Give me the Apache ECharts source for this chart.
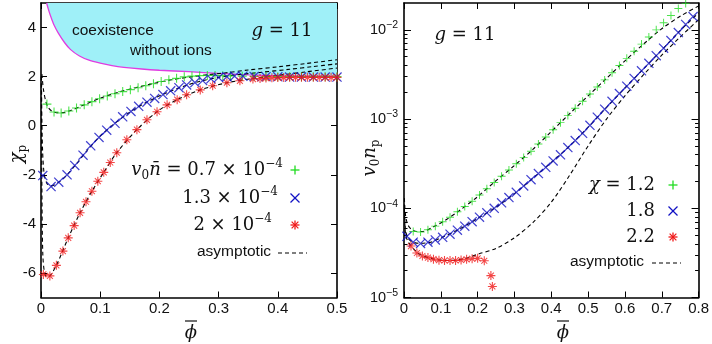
<!DOCTYPE html>
<html>
<head>
<meta charset="utf-8">
<script src="https://cdn.jsdelivr.net/npm/echarts@6/dist/echarts.min.js"></script>
<style>
html, body { margin: 0; padding: 0; background: #fff; }
#chart { width: 712px; height: 344px; }
</style>
</head>
<body>
<div id="chart"></div>
<script>
// ---- left panel: chi_p vs phi-bar ----
const phiBound = [0.0095, 0.012, 0.015, 0.018, 0.022, 0.029, 0.04, 0.05, 0.065, 0.08, 0.1, 0.12, 0.14, 0.17, 0.2, 0.25, 0.3, 0.35, 0.4, 0.45, 0.5];
const chiBound = [5.0, 4.78, 4.55, 4.35, 4.1, 3.78, 3.38, 3.1, 2.84, 2.68, 2.55, 2.45, 2.38, 2.31, 2.26, 2.2, 2.13, 2.07, 2.03, 2.01, 2.0];

const phiGreenL = [0.010, 0.022, 0.034, 0.047, 0.060, 0.073, 0.086, 0.099, 0.112, 0.125, 0.138, 0.151, 0.164, 0.177, 0.190, 0.203, 0.216, 0.229, 0.242, 0.255, 0.268, 0.281, 0.294, 0.307, 0.320, 0.34, 0.36, 0.38, 0.40, 0.42, 0.44, 0.46, 0.48, 0.50];
const chiGreenL = [0.88, 0.56, 0.52, 0.60, 0.72, 0.85, 0.98, 1.10, 1.21, 1.30, 1.39, 1.47, 1.55, 1.63, 1.71, 1.80, 1.87, 1.93, 1.99, 2.02, 2.04, 2.05, 2.05, 2.04, 2.03, 2.02, 2.01, 2.0, 2.0, 2.0, 2.0, 2.0, 2.0, 2.0];

const phiBlueL = [0.003, 0.017, 0.030, 0.044, 0.057, 0.071, 0.084, 0.098, 0.111, 0.125, 0.138, 0.152, 0.165, 0.179, 0.192, 0.206, 0.219, 0.233, 0.246, 0.260, 0.273, 0.287, 0.300, 0.314, 0.327, 0.341, 0.36, 0.38, 0.40, 0.42, 0.44, 0.46, 0.48, 0.50];
const chiBlueL = [-2.03, -2.48, -2.30, -2.00, -1.62, -1.20, -0.82, -0.48, -0.18, 0.10, 0.36, 0.58, 0.79, 0.96, 1.11, 1.27, 1.42, 1.55, 1.66, 1.76, 1.84, 1.91, 1.96, 2.00, 2.02, 2.02, 2.01, 2.0, 1.99, 1.98, 1.98, 1.98, 1.98, 1.98];

const phiRedL = [0.004, 0.015, 0.026, 0.037, 0.046, 0.056, 0.066, 0.076, 0.086, 0.096, 0.106, 0.117, 0.128, 0.145, 0.162, 0.179, 0.196, 0.213, 0.230, 0.246, 0.269, 0.290, 0.314, 0.336, 0.358, 0.37, 0.38, 0.39, 0.40, 0.41, 0.42, 0.43, 0.44, 0.45, 0.46, 0.47, 0.48, 0.49, 0.50];
const chiRedL = [-6.06, -6.12, -5.69, -5.11, -4.57, -4.07, -3.55, -3.10, -2.67, -2.26, -1.90, -1.50, -1.10, -0.57, -0.16, 0.24, 0.57, 0.85, 1.06, 1.26, 1.46, 1.63, 1.75, 1.83, 1.90, 1.92, 1.94, 1.95, 1.96, 1.96, 1.97, 1.97, 1.97, 1.97, 1.97, 1.97, 1.97, 1.97, 1.97];

// asymptotic (dashed) curves, left
const phiAsyGreenL = [0.0015, 0.004, 0.008, 0.012, 0.018, 0.026, 0.035, 0.05, 0.07, 0.1, 0.13, 0.16, 0.19, 0.22, 0.25, 0.28, 0.31, 0.35, 0.4, 0.45, 0.5];
const chiAsyGreenL = [2.1, 1.5, 1.0, 0.75, 0.6, 0.53, 0.53, 0.62, 0.82, 1.12, 1.36, 1.55, 1.72, 1.87, 1.98, 2.07, 2.15, 2.27, 2.4, 2.54, 2.69];
const phiAsyBlueL = [0.0008, 0.002, 0.005, 0.01, 0.017, 0.03, 0.044, 0.06, 0.08, 0.1, 0.125, 0.15, 0.18, 0.21, 0.24, 0.27, 0.3, 0.33, 0.37, 0.42, 0.46, 0.5];
const chiAsyBlueL = [2.0, -0.5, -1.9, -2.35, -2.45, -2.3, -2.0, -1.55, -0.95, -0.42, 0.1, 0.55, 0.98, 1.32, 1.6, 1.82, 1.97, 2.07, 2.17, 2.3, 2.41, 2.52];
const phiAsyRedL = [0.0005, 0.0015, 0.003, 0.006, 0.01, 0.015, 0.026, 0.046, 0.066, 0.086, 0.106, 0.128, 0.162, 0.196, 0.23, 0.269, 0.314, 0.36, 0.4, 0.45, 0.5];
const chiAsyRedL = [2.0, -2.5, -5.2, -6.0, -6.15, -6.12, -5.69, -4.57, -3.55, -2.67, -1.9, -1.1, -0.16, 0.57, 1.06, 1.46, 1.75, 1.93, 2.05, 2.2, 2.35];

// ---- right panel: v0 n_p vs phi-bar (log) ----
const phiGreenR = [0.025, 0.045, 0.065, 0.085, 0.105, 0.125, 0.145, 0.165, 0.185, 0.205, 0.225, 0.245, 0.265, 0.285, 0.305, 0.325, 0.345, 0.365, 0.385, 0.405, 0.425, 0.445, 0.465, 0.485, 0.505, 0.525, 0.545, 0.565, 0.585, 0.605, 0.625, 0.645, 0.665, 0.685, 0.705, 0.725, 0.745, 0.765];
const npGreenR = [5.50e-5, 5.43e-5, 5.75e-5, 6.31e-5, 7.08e-5, 7.94e-5, 9.12e-5, 1.05e-4, 1.20e-4, 1.41e-4, 1.66e-4, 1.95e-4, 2.29e-4, 2.69e-4, 3.16e-4, 3.72e-4, 4.37e-4, 5.25e-4, 6.31e-4, 7.59e-4, 9.12e-4, 1.10e-3, 1.32e-3, 1.58e-3, 1.91e-3, 2.29e-3, 2.75e-3, 3.31e-3, 3.98e-3, 4.79e-3, 5.75e-3, 6.92e-3, 8.32e-3, 1.0e-2, 1.20e-2, 1.45e-2, 1.74e-2, 1.98e-2];

const phiBlueR = [0.008, 0.025, 0.045, 0.065, 0.085, 0.105, 0.125, 0.145, 0.165, 0.185, 0.205, 0.225, 0.245, 0.265, 0.285, 0.305, 0.325, 0.345, 0.365, 0.385, 0.405, 0.425, 0.445, 0.465, 0.485, 0.505, 0.525, 0.545, 0.565, 0.585, 0.605, 0.625, 0.645, 0.665, 0.685, 0.705, 0.725, 0.745, 0.765, 0.785];
const npBlueR = [4.85e-5, 4.17e-5, 4.03e-5, 4.17e-5, 4.42e-5, 4.73e-5, 5.13e-5, 5.69e-5, 6.31e-5, 7.08e-5, 7.94e-5, 8.91e-5, 1.0e-4, 1.15e-4, 1.32e-4, 1.51e-4, 1.78e-4, 2.09e-4, 2.45e-4, 2.88e-4, 3.39e-4, 3.98e-4, 4.79e-4, 5.75e-4, 6.92e-4, 8.51e-4, 1.05e-3, 1.29e-3, 1.58e-3, 1.93e-3, 2.34e-3, 2.85e-3, 3.47e-3, 4.22e-3, 5.13e-3, 6.24e-3, 7.59e-3, 9.33e-3, 1.15e-2, 1.41e-2];

const phiRedR = [0.019, 0.035, 0.05, 0.065, 0.08, 0.095, 0.11, 0.125, 0.14, 0.155, 0.17, 0.185, 0.2, 0.218, 0.236, 0.24];
const npRedR = [3.77e-5, 3.15e-5, 2.92e-5, 2.80e-5, 2.69e-5, 2.62e-5, 2.60e-5, 2.60e-5, 2.60e-5, 2.63e-5, 2.68e-5, 2.72e-5, 2.75e-5, 2.58e-5, 1.76e-5, 1.33e-5];

const phiAsyGreenR = [0.001, 0.004, 0.01, 0.02, 0.035, 0.05, 0.08, 0.11, 0.15, 0.2, 0.25, 0.3, 0.35, 0.4, 0.45, 0.5, 0.55, 0.6, 0.65, 0.7, 0.75, 0.8];
const npAsyGreenR = [1.3e-4, 8.5e-5, 6.6e-5, 5.8e-5, 5.5e-5, 5.5e-5, 6.2e-5, 7.25e-5, 9.4e-5, 1.35e-4, 2.04e-4, 3.02e-4, 4.57e-4, 7.24e-4, 1.15e-3, 1.82e-3, 2.86e-3, 4.5e-3, 6.9e-3, 1.03e-2, 1.42e-2, 1.85e-2];
const phiAsyBlueR = [0.001, 0.004, 0.01, 0.02, 0.04, 0.07, 0.1, 0.15, 0.2, 0.25, 0.3, 0.35, 0.4, 0.45, 0.5, 0.55, 0.6, 0.65, 0.7, 0.75, 0.8];
const npAsyBlueR = [1.1e-4, 5.8e-5, 4.7e-5, 4.25e-5, 4.05e-5, 4.15e-5, 4.65e-5, 5.83e-5, 7.7e-5, 1.03e-4, 1.46e-4, 2.17e-4, 3.27e-4, 5.0e-4, 8.1e-4, 1.35e-3, 2.23e-3, 3.64e-3, 5.95e-3, 9.8e-3, 1.55e-2];
const phiAsyRedR = [0.001, 0.004, 0.01, 0.02, 0.04, 0.06, 0.08, 0.1, 0.12, 0.14, 0.16, 0.18, 0.2, 0.25, 0.3, 0.35, 0.4, 0.45, 0.5, 0.55, 0.6, 0.65, 0.7, 0.75, 0.8];
const npAsyRedR = [1.0e-4, 5.2e-5, 4.3e-5, 3.75e-5, 3.1e-5, 2.85e-5, 2.7e-5, 2.63e-5, 2.6e-5, 2.62e-5, 2.7e-5, 2.85e-5, 3.05e-5, 3.55e-5, 4.68e-5, 6.92e-5, 1.17e-4, 2.35e-4, 5.0e-4, 1.0e-3, 1.82e-3, 3.12e-3, 5.2e-3, 8.3e-3, 1.3e-2];

// tick labels
const chiTicks = [-6, -4, -2, 0, 2, 4];
const npTicks = [1e-5, 1e-4, 1e-3, 1e-2];
const npMinor = [2e-5, 3e-5, 4e-5, 5e-5, 6e-5, 7e-5, 8e-5, 9e-5, 2e-4, 3e-4, 4e-4, 5e-4, 6e-4, 7e-4, 8e-4, 9e-4, 2e-3, 3e-3, 4e-3, 5e-3, 6e-3, 7e-3, 8e-3, 9e-3];

const GREEN = '#1fdc1f';
const BLUE = '#1212c4';
const RED = '#f01818';
const SANS = "'Liberation Sans', Arial, sans-serif";
const SERIF = "'DejaVu Serif', serif";

const zip = (xs, ys) => xs.map((x, i) => [x, ys[i]]);

// marker shapes
const PLUS = 'path://M4.4,0H5.6V10H4.4Z M0,4.4H10V5.6H0Z';
const CROSS = 'path://M0.4,1.2L1.2,0.4L9.6,8.8L8.8,9.6Z M8.8,0.4L9.6,1.2L1.2,9.6L0.4,8.8Z';
const STAR = 'path://M4.4,0H5.6V10H4.4Z M0,4.4H10V5.6H0Z M1.3,2.1L2.1,1.3L8.7,7.9L7.9,8.7Z M7.9,1.3L8.7,2.1L2.1,8.7L1.3,7.9Z';

const scatter = (name, data, symbol, size, color, xi, yi) => ({
    name, type: 'scatter', data, symbol, symbolSize: size,
    xAxisIndex: xi, yAxisIndex: yi,
    itemStyle: { color }, z: 4, silent: true
});
const dashed = (data, xi, yi) => ({
    type: 'line', data, smooth: 0.3, showSymbol: false, symbol: 'none',
    xAxisIndex: xi, yAxisIndex: yi,
    lineStyle: { color: '#000', width: 1.1, type: [4, 3] }, z: 3, silent: true
});

const tickAxis = (extra) => Object.assign({
    axisLine: { show: true, onZero: false, lineStyle: { color: '#000', width: 1.6 } },
    axisTick: { show: true, inside: true, length: 6, lineStyle: { color: '#000', width: 1 } },
    axisLabel: { show: false },
    splitLine: { show: false }
}, extra);

const labelStyle = { color: '#111', fontFamily: SANS, fontSize: 15 };

const mChart = echarts.init(document.getElementById('chart'), null, { renderer: 'canvas' });

// legend glyph drawn with lines
const glyph = (kind, x, y, color, s) => {
    const h = s / 2, d = kind === 'star' ? h * 0.75 : h;
    const segs = [];
    if (kind === 'plus' || kind === 'star') segs.push([x - h, y, x + h, y], [x, y - h, x, y + h]);
    if (kind === 'cross' || kind === 'star') segs.push([x - d, y - d, x + d, y + d], [x - d, y + d, x + d, y - d]);
    return segs.map(l => ({
        type: 'line', z: 10,
        shape: { x1: l[0], y1: l[1], x2: l[2], y2: l[3] },
        style: { stroke: color, lineWidth: 1.3 }
    }));
};

const richMath = {
    m: { fontFamily: SERIF, fontSize: 18, lineHeight: 24, fill: '#111' },
    i: { fontFamily: SERIF, fontStyle: 'italic', fontSize: 18, lineHeight: 24, fill: '#111' },
    sub: { fontFamily: SERIF, fontSize: 12, lineHeight: 16, verticalAlign: 'bottom', fill: '#111' },
    sup: { fontFamily: SERIF, fontSize: 12, lineHeight: 12, verticalAlign: 'top', fill: '#111' }
};
const mathText = (text, x, y, align, extra) => Object.assign({
    type: 'text', z: 10, x, y,
    style: { text, rich: richMath, align, verticalAlign: 'middle', fontFamily: SERIF, fontSize: 18, fill: '#111' }
}, extra || {});
const sansText = (text, x, y, align) => ({
    type: 'text', z: 10, x, y,
    style: { text, align, verticalAlign: 'middle', fontFamily: SANS, fontSize: 15.5, fill: '#111' }
});
const dashLine = (x1, x2, y) => ({
    type: 'line', z: 10, shape: { x1, y1: y, x2, y2: y },
    style: { stroke: '#000', lineWidth: 1.1, lineDash: [4, 3] }
});
const barLine = (x1, x2, y) => ({
    type: 'line', z: 10, shape: { x1, y1: y, x2, y2: y },
    style: { stroke: '#111', lineWidth: 1.2 }
});

const graphics = [
    sansText('coexistence', 72, 31, 'left'),
    sansText('without ions', 130, 51, 'left'),
    mathText('{i|g}{m| = 11}', 282, 31, 'center'),
    mathText('{i|g}{m| = 11}', 465, 35, 'center'),
    // left legend
    mathText('{i|v}{sub|0}{i|n̄}{m| = 0.7 × 10}{sup|−4}', 283, 170, 'right'),
    mathText('{m|1.3 × 10}{sup|−4}', 278, 198, 'right'),
    mathText('{m|2 × 10}{sup|−4}', 272, 225, 'right'),
    sansText('asymptotic', 197, 252, 'left'),
    dashLine(278, 307, 253),
    ...glyph('plus', 295, 170, GREEN, 9),
    ...glyph('cross', 295, 198, BLUE, 9),
    ...glyph('star', 295, 225, RED, 9),
    // right legend
    mathText('{i|χ}{m| = 1.2}', 655, 185, 'right'),
    mathText('{m|1.8}', 655, 211, 'right'),
    mathText('{m|2.2}', 655, 237, 'right'),
    sansText('asymptotic', 570, 262, 'left'),
    dashLine(652, 681, 263),
    ...glyph('plus', 673, 185, GREEN, 9),
    ...glyph('cross', 673, 211, BLUE, 9),
    ...glyph('star', 673, 237, RED, 9),
    // axis names
    mathText('{i|χ}{sub|p}', 17, 154, 'center', { rotation: Math.PI / 2 }),
    mathText('{i|v}{sub|0}{i|n}{sub|p}', 370, 158, 'center', { rotation: Math.PI / 2 }),
    mathText('{i|ϕ}', 191, 333, 'center'),
    barLine(185, 197, 321),
    mathText('{i|ϕ}', 563, 333, 'center'),
    barLine(557, 569, 321)
];

const options = {
    animation: false,
    backgroundColor: '#fff',
    grid: [
        { left: 41, right: 375, top: 3, bottom: 46.5 },
        { left: 404, right: 13, top: 3, bottom: 46.5 }
    ],
    xAxis: [
        tickAxis({
            type: 'value', gridIndex: 0, position: 'bottom', min: 0, max: 0.5, interval: 0.1,
            axisLabel: Object.assign({ show: true, margin: 4 }, labelStyle)
        }),
        tickAxis({ type: 'value', gridIndex: 0, position: 'top', min: 0, max: 0.5, interval: 0.1 }),
        tickAxis({
            type: 'value', gridIndex: 1, position: 'bottom', min: 0, max: 0.8, interval: 0.1,
            axisLabel: Object.assign({ show: true, margin: 4 }, labelStyle)
        }),
        tickAxis({ type: 'value', gridIndex: 1, position: 'top', min: 0, max: 0.8, interval: 0.1 })
    ],
    yAxis: [
        tickAxis({
            type: 'value', gridIndex: 0, position: 'left', min: -7, max: 5,
            axisTick: { show: true, inside: true, length: 6, customValues: chiTicks, lineStyle: { color: '#000' } },
            axisLabel: Object.assign({ show: true, margin: 5, customValues: chiTicks }, labelStyle)
        }),
        tickAxis({
            type: 'value', gridIndex: 0, position: 'right', min: -7, max: 5,
            axisTick: { show: true, inside: true, length: 6, customValues: chiTicks, lineStyle: { color: '#000' } }
        }),
        tickAxis({
            type: 'log', logBase: 10, gridIndex: 1, position: 'left', min: 1e-5, max: 0.02,
            axisTick: { show: true, inside: true, length: 7, customValues: npTicks, lineStyle: { color: '#000' } },
            axisLabel: {
                show: true, margin: 6, customValues: npTicks,
                formatter: v => '{b|10}{s|−' + Math.round(-Math.log10(v)) + '}',
                rich: {
                    b: { fontFamily: SANS, fontSize: 14.5, lineHeight: 20, color: '#111' },
                    s: { fontFamily: SANS, fontSize: 10.5, lineHeight: 11, verticalAlign: 'top', color: '#111' }
                }
            }
        }),
        tickAxis({
            type: 'log', logBase: 10, gridIndex: 1, position: 'left', min: 1e-5, max: 0.02,
            axisLine: { show: false, onZero: false },
            axisTick: { show: true, inside: true, length: 3.5, customValues: npMinor, lineStyle: { color: '#000' } }
        }),
        tickAxis({
            type: 'log', logBase: 10, gridIndex: 1, position: 'right', min: 1e-5, max: 0.02,
            axisTick: { show: true, inside: true, length: 7, customValues: npTicks, lineStyle: { color: '#000' } }
        }),
        tickAxis({
            type: 'log', logBase: 10, gridIndex: 1, position: 'right', min: 1e-5, max: 0.02,
            axisLine: { show: false, onZero: false },
            axisTick: { show: true, inside: true, length: 3.5, customValues: npMinor, lineStyle: { color: '#000' } }
        })
    ],
    series: [
        // coexistence region (filled up to the top of the axis)
        {
            type: 'line', data: zip(phiBound, chiBound), smooth: 0.3, showSymbol: false, symbol: 'none',
            xAxisIndex: 0, yAxisIndex: 0,
            lineStyle: { color: '#e03ce0', width: 1.3 },
            areaStyle: { color: '#9ff0f8', opacity: 1, origin: 'end' },
            z: 1, silent: true
        },
        dashed(zip(phiAsyGreenL, chiAsyGreenL), 0, 0),
        dashed(zip(phiAsyBlueL, chiAsyBlueL), 0, 0),
        dashed(zip(phiAsyRedL, chiAsyRedL), 0, 0),
        scatter('0.7e-4', zip(phiGreenL, chiGreenL), PLUS, 9, GREEN, 0, 0),
        scatter('1.3e-4', zip(phiBlueL, chiBlueL), CROSS, 10, BLUE, 0, 0),
        scatter('2e-4', zip(phiRedL, chiRedL), STAR, 9, RED, 0, 0),

        dashed(zip(phiAsyGreenR, npAsyGreenR), 2, 2),
        dashed(zip(phiAsyBlueR, npAsyBlueR), 2, 2),
        dashed(zip(phiAsyRedR, npAsyRedR), 2, 2),
        scatter('1.2', zip(phiGreenR, npGreenR), PLUS, 8, GREEN, 2, 2),
        scatter('1.8', zip(phiBlueR, npBlueR), CROSS, 10, BLUE, 2, 2),
        scatter('2.2', zip(phiRedR, npRedR), STAR, 9, RED, 2, 2)
    ],
    graphic: { elements: graphics }
};

mChart.setOption(options);
</script>
</body>
</html>
